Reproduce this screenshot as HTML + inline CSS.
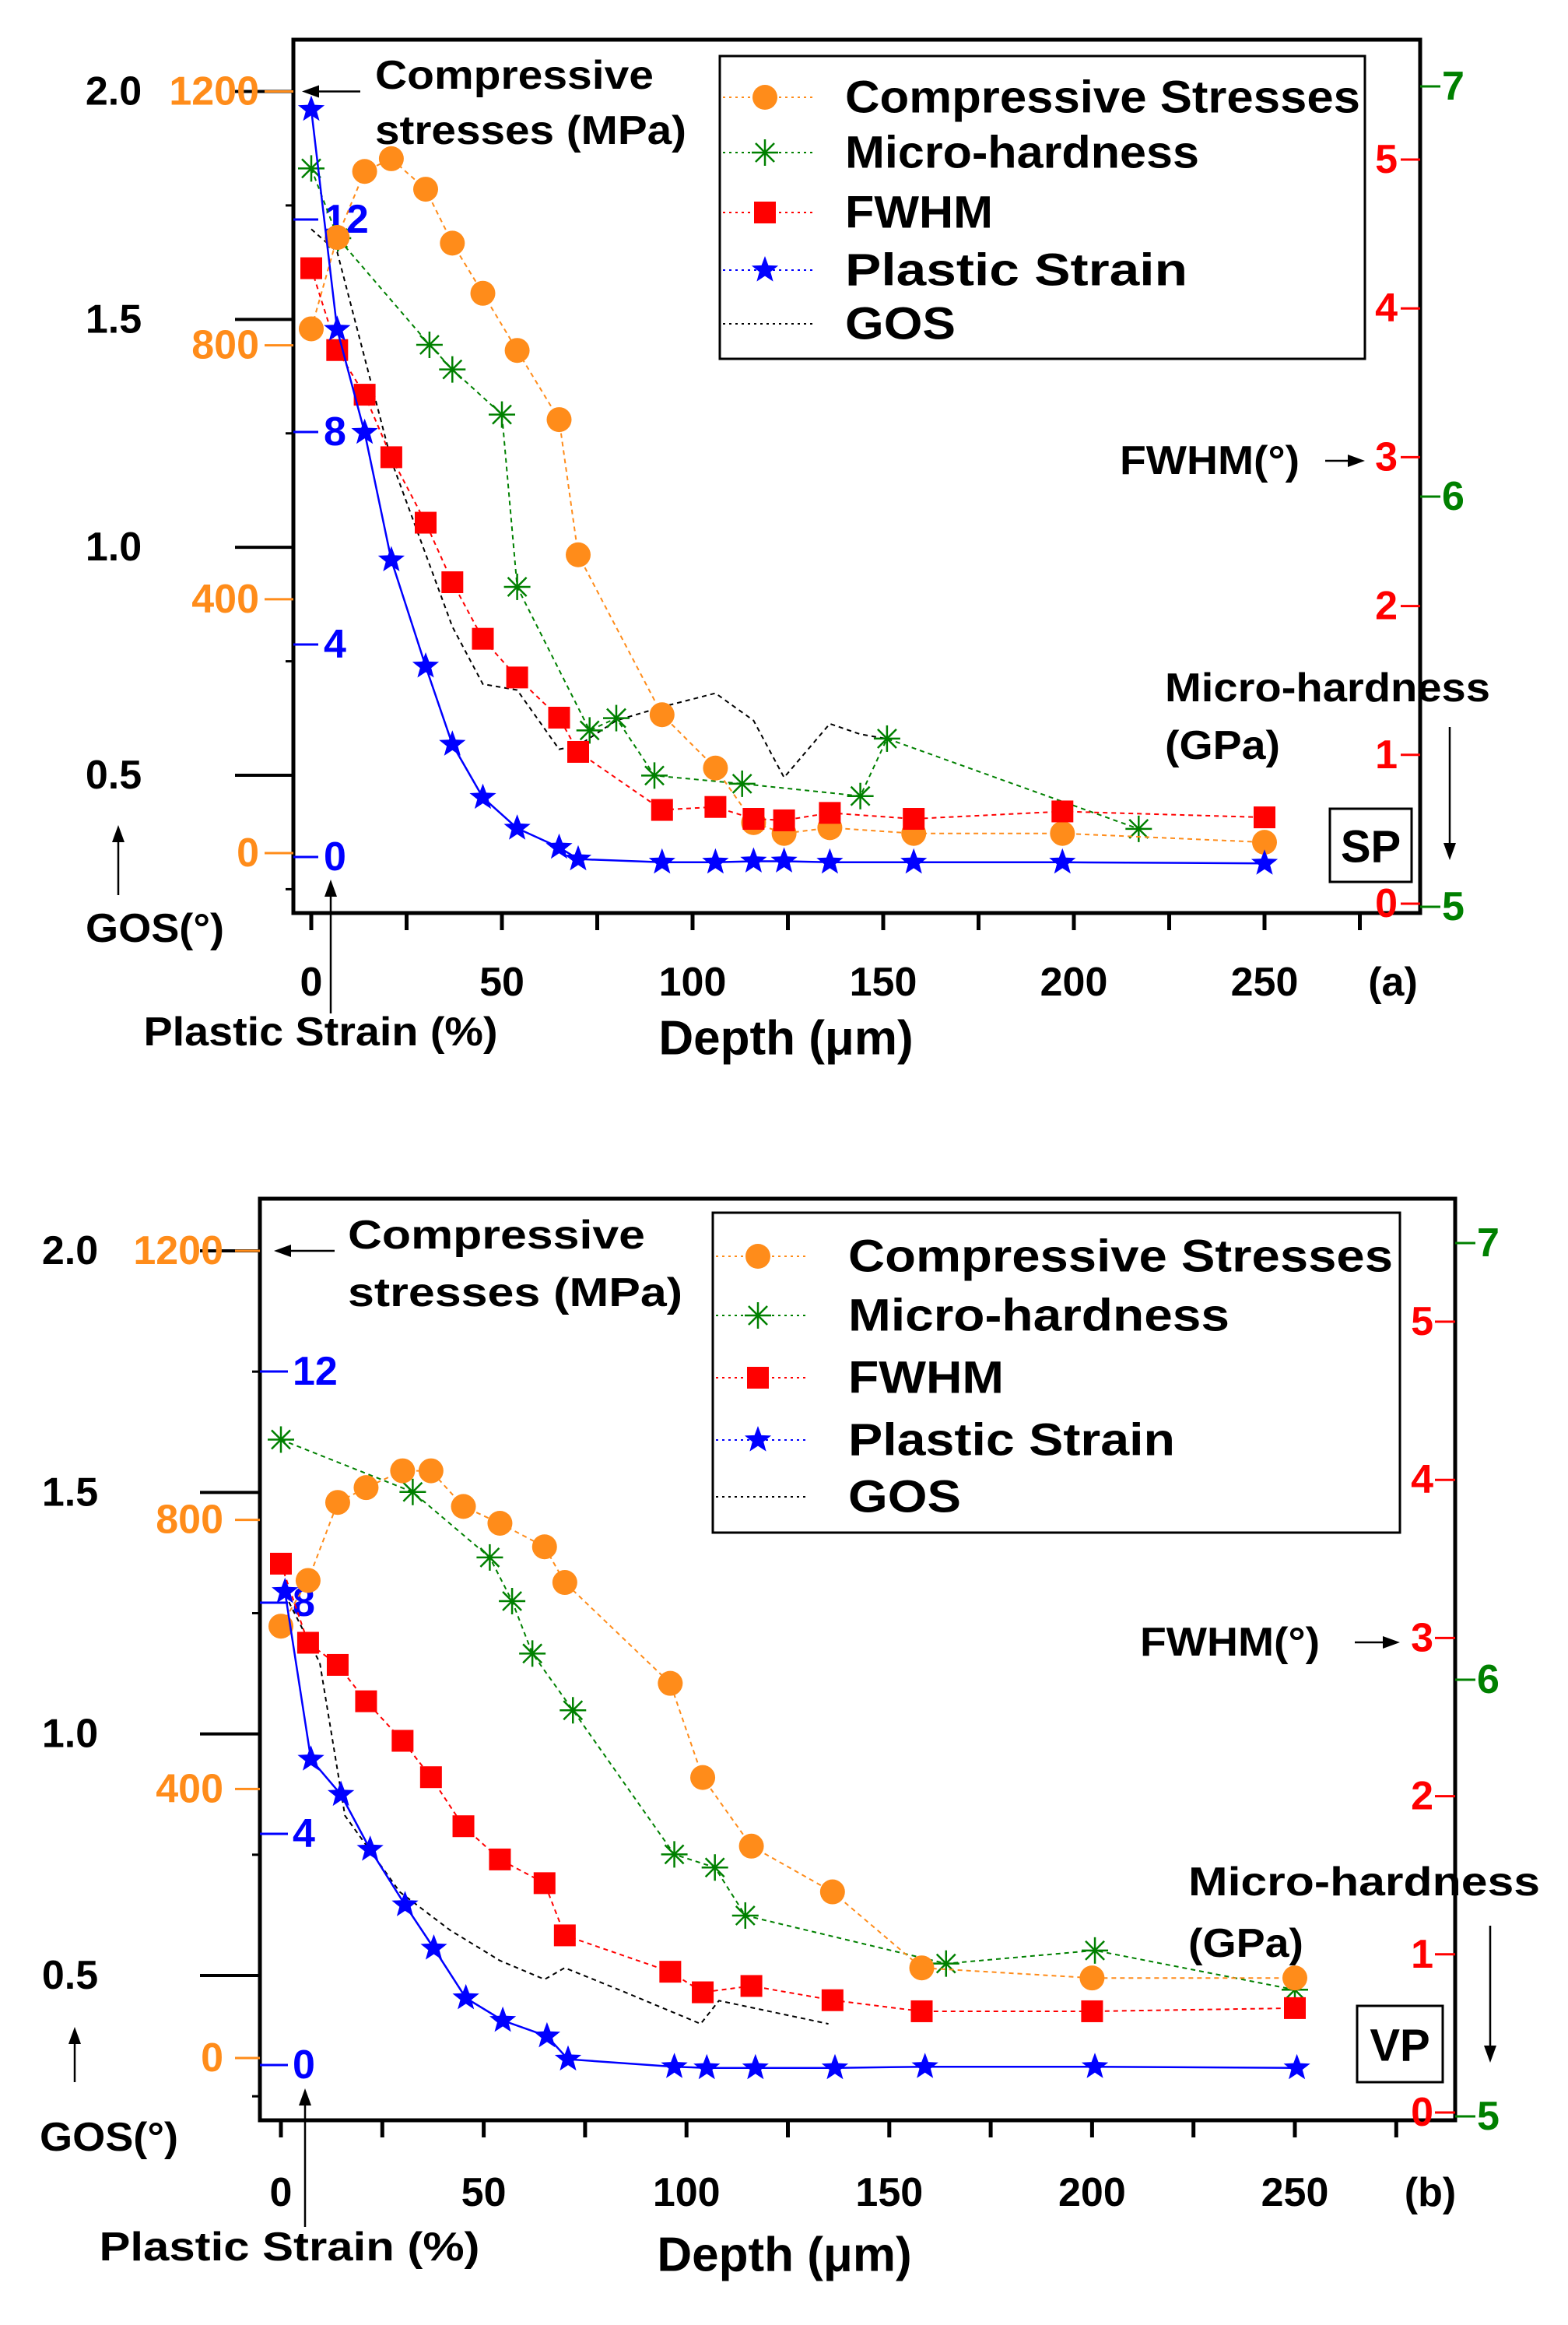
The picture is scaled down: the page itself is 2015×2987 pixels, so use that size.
<!DOCTYPE html>
<html><head><meta charset="utf-8"><style>
html,body{margin:0;padding:0;background:#fff;}
svg{display:block;font-family:"Liberation Sans",Arial,sans-serif;font-weight:bold;}
</style></head><body>
<svg id="chart" width="2015" height="2987" viewBox="0 0 2015 2987" xmlns="http://www.w3.org/2000/svg"></svg>
<script>
// ---------- Panel (a) SP data ----------
const aCsDepth = [0, 6.8, 14, 21, 30, 37, 45, 54, 65, 70, 92, 106, 116, 124, 136, 158, 197, 250];
const aCsValues = [826, 970, 1074, 1094, 1046, 961, 882, 792, 683, 470, 218, 134, 48, 31, 40, 31, 31, 17];
const aMhDepth = [0, 7, 31, 37, 50, 54, 73, 80, 90, 113, 144, 151, 217];
const aMhValues = [6.80, 6.63, 6.37, 6.31, 6.20, 5.78, 5.43, 5.46, 5.32, 5.30, 5.27, 5.41, 5.19];
const aFwDepth = [0, 6.8, 14, 21, 30, 37, 45, 54, 65, 70, 92, 106, 116, 124, 136, 158, 197, 250];
const aFwValues = [4.27, 3.72, 3.42, 3.0, 2.56, 2.16, 1.78, 1.52, 1.25, 1.02, 0.63, 0.65, 0.57, 0.56, 0.61, 0.57, 0.62, 0.58];
const aPsDepth = [0, 6.8, 14, 21, 30, 37, 45, 54, 65, 70, 92, 106, 116, 124, 136, 158, 197, 250];
const aPsValues = [14.07, 9.93, 7.99, 5.59, 3.59, 2.12, 1.12, 0.54, 0.18, -0.04, -0.1, -0.1, -0.08, -0.08, -0.1, -0.1, -0.1, -0.12];
const aGosDepth = [0, 6.8, 21, 37, 45, 54, 65, 70, 80, 92, 106, 116, 124, 136, 144, 151];
const aGosValues = [1.698, 1.648, 1.19, 0.826, 0.70, 0.687, 0.557, 0.565, 0.62, 0.65, 0.68, 0.62, 0.495, 0.613, 0.59, 0.58];
// ---------- Panel (b) VP data ----------
const bCsDepth = [0, 6.7, 14, 21, 30, 37, 45, 54, 65, 70, 96, 104, 116, 136, 158, 200, 250];
const bCsValues = [642, 710, 826, 848, 873, 873, 820, 795, 760, 707, 557, 417, 315, 247, 134, 119, 119];
const bMhDepth = [0, 32.5, 51.5, 57, 62, 72, 97, 107, 114.5, 164, 200.7, 250];
const bMhValues = [6.55, 6.43, 6.28, 6.18, 6.06, 5.93, 5.60, 5.57, 5.46, 5.35, 5.38, 5.29];
const bFwDepth = [0, 6.7, 14, 21, 30, 37, 45, 54, 65, 70, 96, 104, 116, 136, 158, 200, 250];
const bFwValues = [3.47, 2.97, 2.83, 2.60, 2.35, 2.12, 1.81, 1.60, 1.45, 1.12, 0.89, 0.76, 0.80, 0.71, 0.64, 0.64, 0.66];
const bPsDepth = [1, 7.4, 14.8, 22, 30.6, 37.7, 45.6, 54.7, 65.6, 70.8, 97, 105, 117, 136.6, 158.8, 200.7, 250.5];
const bPsValues = [8.19, 5.29, 4.68, 3.73, 2.77, 2.02, 1.16, 0.77, 0.50, 0.1, -0.03, -0.05, -0.05, -0.05, -0.03, -0.03, -0.05];
const bGosDepth = [1, 9.6, 15.8, 29.3, 41.7, 54, 65, 70, 83.8, 103.5, 108, 135];
const bGosValues = [1.289, 1.147, 0.831, 0.673, 0.594, 0.531, 0.492, 0.516, 0.469, 0.40, 0.448, 0.40];
// ---------- tick labels ----------
const depthTicks = [0, 50, 100, 150, 200, 250];
const gosTicks = ["2.0", "1.5", "1.0", "0.5"];
const csTicks = [1200, 800, 400, 0];
const psTicks = [12, 8, 4, 0];
const fwTicks = [5, 4, 3, 2, 1, 0];
const mhTicks = [7, 6, 5];
const legendLabels = ["Compressive Stresses", "Micro-hardness", "FWHM", "Plastic Strain", "GOS"];

const NS = "http://www.w3.org/2000/svg";
const svg = document.getElementById("chart");
function mk(tag, attrs, parent) {
  const e = document.createElementNS(NS, tag);
  for (const k in attrs) e.setAttribute(k, attrs[k]);
  (parent || svg).appendChild(e);
  return e;
}
function txt(s, x, y, size, fill, anchor, parent, tl) {
  const t = mk("text", {x: x, y: y, "font-size": size, fill: fill, "text-anchor": anchor || "start", "dominant-baseline": "central"}, parent);
  if (tl) { t.setAttribute("textLength", tl); t.setAttribute("lengthAdjust", "spacingAndGlyphs"); }
  t.textContent = s;
  return t;
}
function lin(v0, p0, v1, p1) { return v => p0 + (v - v0) * (p1 - p0) / (v1 - v0); }
function starPath(cx, cy, r) {
  let d = "";
  for (let i = 0; i < 10; i++) {
    const rr = i % 2 ? r * 0.42 : r;
    const a = -Math.PI / 2 + i * Math.PI / 5;
    d += (i ? "L" : "M") + (cx + rr * Math.cos(a)).toFixed(1) + " " + (cy + rr * Math.sin(a)).toFixed(1);
  }
  return d + "Z";
}
const ORANGE = "#ff8c1a", GREEN = "#008000", RED = "#ff0000", BLUE = "#0000ff";

function marker(kind, x, y, g) {
  let m;
  if (kind === "circle") m = mk("circle", {cx: x, cy: y, r: 16, fill: ORANGE}, g);
  else if (kind === "square") m = mk("rect", {x: x - 14, y: y - 14, width: 28, height: 28, fill: RED}, g);
  else if (kind === "star") m = mk("path", {d: starPath(x, y, 18), fill: BLUE}, g);
  else {
    m = mk("g", {stroke: GREEN, "stroke-width": 2.5}, g);
    for (let i = 0; i < 4; i++) {
      const a = i * Math.PI / 4, r = 17;
      mk("line", {x1: x - r * Math.cos(a), y1: y - r * Math.sin(a), x2: x + r * Math.cos(a), y2: y + r * Math.sin(a)}, m);
    }
  }
  return m;
}

function series(g, name, depth, vals, X, Y, color, dash, kind, width) {
  const sg = mk("g", {}, g);
  
  
  const pts = depth.map((d, i) => X(d).toFixed(1) + "," + Y(vals[i]).toFixed(1)).join(" ");
  const pl = mk("polyline", {points: pts, fill: "none", stroke: color, "stroke-width": width || 2, "stroke-dasharray": dash || "none"}, sg);
  
  
  if (kind) depth.forEach((d, i) => {
    const m = marker(kind, X(d), Y(vals[i]), sg);
    
    
  });
}
function arrowHead(x, y, dir, g) {
  const s = 22, w = 8; let p;
  if (dir === 'l') p = [x, y, x + s, y - w, x + s, y + w];
  if (dir === 'r') p = [x, y, x - s, y - w, x - s, y + w];
  if (dir === 'u') p = [x, y, x - w, y + s, x + w, y + s];
  if (dir === 'd') p = [x, y, x - w, y - s, x + w, y - s];
  mk("polygon", {points: p.join(" "), fill: "#000"}, g);
}

function panel(P, D) {
  const g = mk("g", {});
  
  
  const X = lin(0, P.x0, 250, P.x250);
  const Ygos = lin(2.0, P.gos2, 0.5, P.gos05);
  const Ycs = lin(1200, P.cs1200, 0, P.cs0);
  const Yps = lin(12, P.ps12, 0, P.ps0);
  const Yfw = lin(5, P.fw5, 0, P.fw0);
  const Ymh = lin(7, P.mh7, 5, P.mh5);

  const fr = mk("rect", {x: P.L, y: P.T, width: P.R - P.L, height: P.B - P.T, fill: "none", stroke: "#000", "stroke-width": 5}, g);
  
  

  const xg = mk("g", {}, g);
  
  
  for (let d = 0; d <= 275; d += 25) mk("line", {x1: X(d), y1: P.B, x2: X(d), y2: P.B + 22, stroke: "#000", "stroke-width": 5}, xg);
  depthTicks.forEach(d => txt(String(d), X(d), P.xLabY, 52, "#000", "middle", xg));
  txt(P.tag, P.tagX, P.xLabY, 52, "#000", "middle", xg);
  const xt = txt("Depth (\u03bcm)", P.depthX, P.depthY, 62, "#000", "middle", g);
  
  

  const gg = mk("g", {}, g);
  
  
  gosTicks.forEach(t => {
    const y = Ygos(parseFloat(t));
    mk("line", {x1: P.gosTickX, y1: y, x2: P.L, y2: y, stroke: "#000", "stroke-width": 4}, gg);
    txt(t, P.gosLabX, y, 52, "#000", "middle", gg);
  });
  for (let v = 2.0; v >= 0.24; v -= 0.25) {
    const y = Ygos(v);
    if (y > P.T && y < P.B) mk("line", {x1: P.L - 10, y1: y, x2: P.L, y2: y, stroke: "#000", "stroke-width": 3}, gg);
  }
  const gl = txt("GOS(\u00b0)", P.gosTitleX, P.gosTitleY, 52, "#000", "start", gg, 178);
  
  
  mk("line", {x1: P.gosArX, y1: P.gosArY1, x2: P.gosArX, y2: P.gosArY0 + 10, stroke: "#000", "stroke-width": 2.5}, gg);
  arrowHead(P.gosArX, P.gosArY0, 'u', gg);

  const cg = mk("g", {}, g);
  
  
  csTicks.forEach(t => {
    const y = Ycs(t);
    mk("line", {x1: P.csTickX, y1: y, x2: P.L, y2: y, stroke: ORANGE, "stroke-width": 3}, cg);
    txt(String(t), P.csLabX, y, 52, ORANGE, "end", cg);
  });
  const ct1 = txt("Compressive", P.cmpX, P.cmpY1, 52, "#000", "start", cg, P.cmpW1);
  txt("stresses (MPa)", P.cmpX, P.cmpY2, 52, "#000", "start", cg, P.cmpW2);
  
  
  mk("line", {x1: P.cmpArX1, y1: P.cs1200, x2: P.cmpArX0 + 10, y2: P.cs1200, stroke: "#000", "stroke-width": 2.5}, cg);
  arrowHead(P.cmpArX0, P.cs1200, 'l', cg);

  const pg = mk("g", {}, g);
  
  
  psTicks.forEach(t => {
    const y = Yps(t);
    mk("line", {x1: P.L, y1: y, x2: P.psTickX, y2: y, stroke: BLUE, "stroke-width": 3}, pg);
    txt(String(t), P.psLabX, y, 52, BLUE, "start", pg);
  });
  const pt = txt("Plastic Strain (%)", P.psTitleX, P.psTitleY, 52, "#000", "middle", pg, P.psTitleW);
  
  
  mk("line", {x1: P.psArX, y1: P.psArY1, x2: P.psArX, y2: P.psArY0 + 10, stroke: "#000", "stroke-width": 2.5}, pg);
  arrowHead(P.psArX, P.psArY0, 'u', pg);

  const fg = mk("g", {}, g);
  
  
  fwTicks.forEach(t => {
    const y = Yfw(t);
    mk("line", {x1: P.fwTickX, y1: y, x2: P.R, y2: y, stroke: RED, "stroke-width": 3}, fg);
    txt(String(t), P.fwLabX, y, 52, RED, "end", fg);
  });
  const ft = txt("FWHM(\u00b0)", P.fwTitleX, P.fwTitleY, 52, "#000", "start", fg, 231);
  
  
  mk("line", {x1: P.fwArX0, y1: P.fwTitleY, x2: P.fwArX1 - 10, y2: P.fwTitleY, stroke: "#000", "stroke-width": 2.5}, fg);
  arrowHead(P.fwArX1, P.fwTitleY, 'r', fg);

  const hg = mk("g", {}, g);
  
  
  mhTicks.forEach(t => {
    const y = Ymh(t);
    mk("line", {x1: P.R, y1: y, x2: P.R + 26, y2: y, stroke: GREEN, "stroke-width": 3}, hg);
    txt(String(t), P.R + 28, y, 52, GREEN, "start", hg);
  });
  const ht = txt("Micro-hardness", P.mhTitleX, P.mhTitleY1, 52, "#000", "start", hg, P.mhTitleW);
  txt("(GPa)", P.mhTitleX, P.mhTitleY2, 52, "#000", "start", hg, 148);
  
  
  mk("line", {x1: P.mhArX, y1: P.mhArY0, x2: P.mhArX, y2: P.mhArY1 - 10, stroke: "#000", "stroke-width": 2.5}, hg);
  arrowHead(P.mhArX, P.mhArY1, 'd', hg);

  series(g, "gos-series", D.gosD, D.gosV, X, Ygos, "#000", "6 5", null, 2);
  series(g, "micro-hardness-series", D.mhD, D.mhV, X, Ymh, GREEN, "6 5", "aster", 2);
  series(g, "compressive-stress-series", D.csD, D.csV, X, Ycs, ORANGE, "6 5", "circle", 2);
  series(g, "fwhm-series", D.fwD, D.fwV, X, Yfw, RED, "6 5", "square", 2);
  series(g, "plastic-strain-series", D.psD, D.psV, X, Yps, BLUE, null, "star", 2.5);

  const lg = mk("g", {}, g);
  
  
  mk("rect", {x: P.lgL, y: P.lgT, width: P.lgR - P.lgL, height: P.lgB - P.lgT, fill: "#fff", stroke: "#000", "stroke-width": 3}, lg);
  const kinds = ["circle", "aster", "square", "star", null];
  const cols = [ORANGE, GREEN, RED, BLUE, "#000"];
  const widths = P.lgW;
  legendLabels.forEach((lab, i) => {
    const y = P.lgY[i];
    const eg = mk("g", {}, lg);
    
    
    mk("line", {x1: P.lgL + 4, y1: y, x2: P.lgL + 120, y2: y, stroke: cols[i], "stroke-width": 2, "stroke-dasharray": "3 5"}, eg);
    if (kinds[i]) marker(kinds[i], P.lgL + 58, y, eg);
    txt(lab, P.lgTextX, y, 58, "#000", "start", eg, widths[i]);
  });

  const tb = mk("g", {}, g);
  
  
  mk("rect", {x: P.boxL, y: P.boxT, width: P.boxR - P.boxL, height: P.boxB - P.boxT, fill: "#fff", stroke: "#000", "stroke-width": 3}, tb);
  txt(P.boxLabel, (P.boxL + P.boxR) / 2, (P.boxT + P.boxB) / 2 + 2, 58, "#000", "middle", tb);
}

panel({
  name: "panel-a-sp", L: 377, R: 1825, T: 51, B: 1173,
  x0: 400, x250: 1625, gos2: 117.5, gos05: 996, cs1200: 117.5, cs0: 1096,
  ps12: 282, ps0: 1101, fw5: 205, fw0: 1161, mh7: 111, mh5: 1165,
  xLabY: 1262, tag: "(a)", tagX: 1790, depthX: 1010, depthY: 1334,
  gosTickX: 302, gosLabX: 146, gosTitleX: 110, gosTitleY: 1193, gosArX: 152, gosArY0: 1060, gosArY1: 1150,
  csTickX: 340, csLabX: 333, cmpX: 482, cmpY1: 97, cmpY2: 168, cmpW1: 358, cmpW2: 400, cmpArX0: 388, cmpArX1: 463,
  psTickX: 409, psLabX: 416, psTitleX: 412, psTitleY: 1326, psTitleW: 455, psArX: 425, psArY0: 1130, psArY1: 1302,
  fwTickX: 1800, fwLabX: 1796, fwTitleX: 1439, fwTitleY: 592, fwArX0: 1703, fwArX1: 1754,
  mhTitleX: 1497, mhTitleY1: 884, mhTitleY2: 958, mhTitleW: 418, mhArX: 1863, mhArY0: 934, mhArY1: 1105,
  lgL: 925, lgR: 1754, lgT: 72, lgB: 461, lgY: [125, 196, 273, 347, 416], lgTextX: 1086,
  lgW: [662, 455, 190, 440, 142],
  boxL: 1709, boxR: 1814, boxT: 1039, boxB: 1133, boxLabel: "SP"
}, {csD: aCsDepth, csV: aCsValues, mhD: aMhDepth, mhV: aMhValues, fwD: aFwDepth, fwV: aFwValues,
    psD: aPsDepth, psV: aPsValues, gosD: aGosDepth, gosV: aGosValues});

panel({
  name: "panel-b-vp", L: 334, R: 1870, T: 1540, B: 2724,
  x0: 361, x250: 1664, gos2: 1607, gos05: 2538, cs1200: 1607, cs0: 2644,
  ps12: 1762, ps0: 2653, fw5: 1698, fw0: 2714, mh7: 1597, mh5: 2719,
  xLabY: 2817, tag: "(b)", tagX: 1838, depthX: 1008, depthY: 2897,
  gosTickX: 257, gosLabX: 90, gosTitleX: 51, gosTitleY: 2746, gosArX: 96, gosArY0: 2604, gosArY1: 2675,
  csTickX: 302, csLabX: 287, cmpX: 447, cmpY1: 1587, cmpY2: 1661, cmpW1: 382, cmpW2: 430, cmpArX0: 352, cmpArX1: 430,
  psTickX: 370, psLabX: 376, psTitleX: 372, psTitleY: 2887, psTitleW: 489, psArX: 392, psArY0: 2683, psArY1: 2861,
  fwTickX: 1844, fwLabX: 1842, fwTitleX: 1465, fwTitleY: 2110, fwArX0: 1741, fwArX1: 1799,
  mhTitleX: 1527, mhTitleY1: 2418, mhTitleY2: 2497, mhTitleW: 452, mhArX: 1915, mhArY0: 2474, mhArY1: 2650,
  lgL: 916, lgR: 1799, lgT: 1558, lgB: 1969, lgY: [1614, 1690, 1770, 1850, 1923], lgTextX: 1090,
  lgW: [700, 490, 200, 420, 145],
  boxL: 1744, boxR: 1854, boxT: 2577, boxB: 2675, boxLabel: "VP"
}, {csD: bCsDepth, csV: bCsValues, mhD: bMhDepth, mhV: bMhValues, fwD: bFwDepth, fwV: bFwValues,
    psD: bPsDepth, psV: bPsValues, gosD: bGosDepth, gosV: bGosValues});
</script>
</body></html>
